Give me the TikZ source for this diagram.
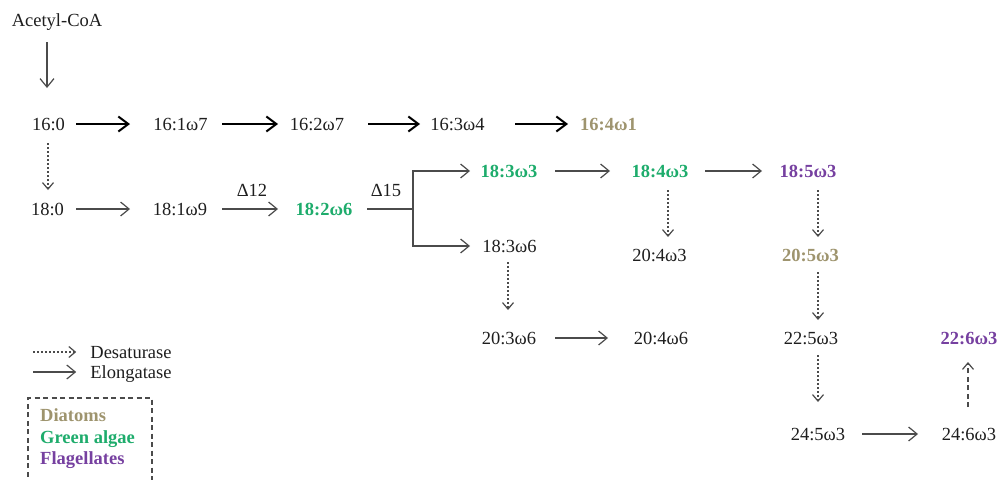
\documentclass[tikz,border=0pt]{standalone}
\usepackage{fontspec}
\setmainfont{Liberation Serif}
\usetikzlibrary{arrows.meta}
\definecolor{diat}{RGB}{158,148,110}
\definecolor{grn}{RGB}{30,172,108}
\definecolor{purp}{RGB}{118,64,160}
\definecolor{txt}{RGB}{30,30,30}
\definecolor{arr}{RGB}{75,75,75}
\tikzset{
  fa/.style={inner sep=0pt, text height=12.5pt, text depth=0pt, text=txt, font=\fontsize{18.5}{22}\selectfont},
  fad/.style={fa, text=diat, font=\fontsize{18.5}{22}\selectfont\bfseries},
  fag/.style={fa, text=grn, font=\fontsize{18.5}{22}\selectfont\bfseries},
  fap/.style={fa, text=purp, font=\fontsize{18.5}{22}\selectfont\bfseries},
  thk/.style={draw=black, line width=2.3pt, -{Straight Barb[length=10pt,width=15pt,line width=2pt]}},
  el/.style={draw=arr, line width=1.2pt, -{Straight Barb[length=8.5pt,width=14pt,line width=1.2pt]}},
  ds/.style={draw=arr, line width=1.3pt, dash pattern=on 2pt off 2pt, -{Straight Barb[length=6.5pt,width=11pt,line width=1.2pt]}},
  dsh/.style={draw=arr, line width=1.2pt, dash pattern=on 5pt off 3.5pt, -{Straight Barb[length=6.5pt,width=11pt,line width=1.2pt]}},
}
\begin{document}
\begin{tikzpicture}[x=1pt,y=-1pt]
\useasboundingbox (0,0) rectangle (998,479);
% nodes
\node[fa] (acoa) at (57,20) {Acetyl-CoA};
\node[fa] (n160) at (48.5,124) {16:0};
\node[fa] (n161) at (180.5,124) {16:1ω7};
\node[fa] (n162) at (317,124) {16:2ω7};
\node[fa] (n163) at (457.5,124) {16:3ω4};
\node[fad] (n164) at (608.5,124) {16:4ω1};
\node[fa] (n180) at (47.5,209) {18:0};
\node[fa] (n181) at (180,209) {18:1ω9};
\node[fag] (n182) at (324,209) {18:2ω6};
\node[fag] (n183a) at (509,171) {18:3ω3};
\node[fag] (n184) at (660,171) {18:4ω3};
\node[fap] (n185) at (808,171) {18:5ω3};
\node[fa] (n183b) at (509.5,246) {18:3ω6};
\node[fa] (n204a) at (659.5,255) {20:4ω3};
\node[fad] (n205) at (810.5,255) {20:5ω3};
\node[fa] (n203) at (509,338) {20:3ω6};
\node[fa] (n204b) at (661,338) {20:4ω6};
\node[fa] (n225) at (811,338) {22:5ω3};
\node[fap] (n226) at (969,338) {22:6ω3};
\node[fa] (n245) at (818,434) {24:5ω3};
\node[fa] (n246) at (969,434) {24:6ω3};
\node[fa] (d12) at (252,190) {Δ12};
\node[fa] (d15) at (386,190) {Δ15};
% row 1 (thick)
\draw[thk] ([xshift=27.5pt]n160.center) -- ([xshift=-50.5pt]n161.center);
\draw[thk] ([xshift=41.5pt]n161.center) -- ([xshift=-39pt]n162.center);
\draw[thk] ([xshift=51pt]n162.center) -- ([xshift=-37.5pt]n163.center);
\draw[thk] ([xshift=57.5pt]n163.center) -- ([xshift=-40.5pt]n164.center);
% elongations
\draw[el] ([xshift=-10pt,yshift=-22pt]acoa.center) -- ([xshift=-1.5pt,yshift=36pt]n160.center);
\draw[el] ([xshift=28.5pt]n180.center) -- ([xshift=-50pt]n181.center);
\draw[el] ([xshift=42pt]n181.center) -- ([xshift=-46pt]n182.center);
\coordinate (br) at (413,209);
\draw[draw=arr, line width=1.2pt] ([xshift=43pt]n182.center) -- (br);
\draw[el] (br) |- ([xshift=-39pt]n183a.center);
\draw[el] (br) |- ([xshift=-39.5pt]n183b.center);
\draw[el] ([xshift=46pt]n183a.center) -- ([xshift=-50pt]n184.center);
\draw[el] ([xshift=45pt]n184.center) -- ([xshift=-46pt]n185.center);
\draw[el] ([xshift=46pt]n203.center) -- ([xshift=-53pt]n204b.center);
\draw[el] ([xshift=44pt]n245.center) -- ([xshift=-51pt]n246.center);
% desaturations
\draw[ds] ([xshift=-0.5pt,yshift=-19pt]n160.center) -- ([xshift=0.5pt,yshift=19pt]n180.center);
\draw[ds] ([xshift=8pt,yshift=-19pt]n184.center) -- ([xshift=8.5pt,yshift=18pt]n204a.center);
\draw[ds] ([xshift=10pt,yshift=-19pt]n185.center) -- ([xshift=7.5pt,yshift=18pt]n205.center);
\draw[ds] ([xshift=-1.5pt,yshift=-16pt]n183b.center) -- ([xshift=-1pt,yshift=28pt]n203.center);
\draw[ds] ([xshift=7.5pt,yshift=-17pt]n205.center) -- ([xshift=7pt,yshift=18pt]n225.center);
\draw[ds] ([xshift=7pt,yshift=-17pt]n225.center) -- ([xshift=0pt,yshift=32pt]n245.center);
\draw[dsh] ([xshift=-1pt,yshift=27pt]n246.center) -- ([xshift=-1pt,yshift=-24pt]n226.center);
% legend
\node[fa] (ldes) at (131,352) {Desaturase};
\node[fa] (lelo) at (131,372) {Elongatase};
\draw[ds] ([xshift=-57pt]ldes.west) -- ([xshift=-14pt]ldes.west);
\draw[el] ([xshift=-57pt]lelo.west) -- ([xshift=-14pt]lelo.west);
\draw[draw=arr, line width=1.2pt, dash pattern=on 5pt off 3.5pt] (28,485) -- (28,398) -- (152,398) -- (152,485);
\node[fad, anchor=west] (ldia) at (40,415) {Diatoms};
\node[fag, anchor=west] (lgrn) at (40,437) {Green algae};
\node[fap, anchor=west] (lfla) at (40,458) {Flagellates};
\end{tikzpicture}
\end{document}
